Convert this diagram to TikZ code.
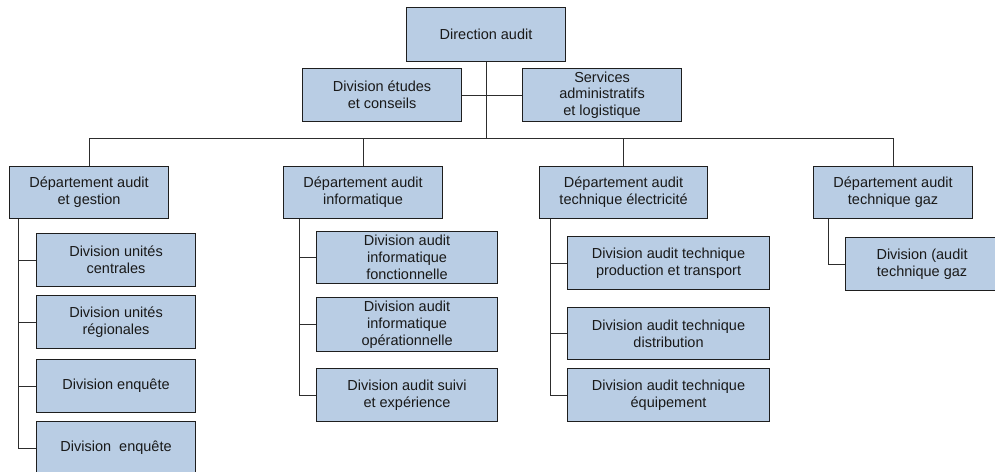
\documentclass[tikz,border=0pt]{standalone}
\usepackage{fontspec}
\setmainfont{Liberation Sans}
\definecolor{boxfill}{RGB}{185,205,228}
\definecolor{boxline}{RGB}{30,30,30}
\definecolor{linkline}{RGB}{45,45,45}
\begin{document}
\begin{tikzpicture}[x=1pt,y=-1pt,
  unit/.style={draw=boxline, fill=boxfill, line width=1.1pt, inner sep=0pt,
    anchor=north west, align=center, text=black!90,
    font=\fontsize{14.5}{16.8}\selectfont},
  link/.style={draw=linkline, line width=0.9pt}]
\clip (0,0) rectangle (995,471);
\fill[white] (0,0) rectangle (995,471);

% top level
\node[unit, minimum width=159, minimum height=54] (dir) at (406,7) {Direction audit};
\node[unit, minimum width=159, minimum height=53] (etu) at (302,68) {Division études\\et conseils};
\node[unit, minimum width=159, minimum height=53] (svc) at (522,68) {Services\\administratifs\\et logistique};

% departments
\node[unit, minimum width=159, minimum height=52] (d1) at (9,166) {Département audit\\et gestion};
\node[unit, minimum width=159, minimum height=52] (d2) at (283,166) {Département audit\\informatique};
\node[unit, minimum width=168, minimum height=52] (d3) at (539,166) {Département audit\\technique électricité};
\node[unit, minimum width=159, minimum height=52] (d4) at (813,166) {Département audit\\technique gaz};

% divisions under d1
\node[unit, minimum width=159, minimum height=53] (g1) at (36,233) {Division unités\\centrales};
\node[unit, minimum width=159, minimum height=53] (g2) at (36,295) {Division unités\\régionales};
\node[unit, minimum width=159, minimum height=53] (g3) at (36,359) {Division enquête};
\node[unit, minimum width=159, minimum height=53] (g4) at (36,421) {Division~~enquête};

% divisions under d2
\node[unit, minimum width=181, minimum height=52] (i1) at (316,231) {Division audit\\informatique\\fonctionnelle};
\node[unit, minimum width=181, minimum height=54] (i2) at (316,297) {Division audit\\informatique\\opérationnelle};
\node[unit, minimum width=181, minimum height=53] (i3) at (316,368) {Division audit suivi\\et expérience};

% divisions under d3
\node[unit, minimum width=202, minimum height=53] (e1) at (567,236) {Division audit technique\\production et transport};
\node[unit, minimum width=202, minimum height=52] (e2) at (567,307) {Division audit technique\\distribution};
\node[unit, minimum width=202, minimum height=53] (e3) at (567,368) {Division audit technique\\équipement};

% division under d4 (runs past the right edge)
\node[unit, minimum width=153, minimum height=53] (z1) at (845,237) {Division (audit\\technique gaz};

% staff links and main bus
\coordinate (bus) at (487,138);
\draw[link] (etu.east) -- (svc.west);
\draw[link] (dir.south) -- (dir.south |- bus);
\draw[link] (d1.north) |- (d4.north |- bus) -- (d4.north);
\draw[link] (d2.north) -- (d2.north |- bus);
\draw[link] (d3.north) -- (d3.north |- bus);

% spines from each department down to its divisions
\coordinate (s1) at ([xshift=9]d1.south west);
\coordinate (s2) at ([xshift=16]d2.south west);
\coordinate (s3) at ([xshift=11]d3.south west);
\coordinate (s4) at ([xshift=15]d4.south west);

\draw[link] (s1) |- (g4.west);
\draw[link] (s1 |- g1.west) -- (g1.west);
\draw[link] (s1 |- g2.west) -- (g2.west);
\draw[link] (s1 |- g3.west) -- (g3.west);

\draw[link] (s2) |- (i3.west);
\draw[link] (s2 |- i1.west) -- (i1.west);
\draw[link] (s2 |- i2.west) -- (i2.west);

\draw[link] (s3) |- (e3.west);
\draw[link] (s3 |- e1.west) -- (e1.west);
\draw[link] (s3 |- e2.west) -- (e2.west);

\draw[link] (s4) |- (z1.west);
\end{tikzpicture}
\end{document}
